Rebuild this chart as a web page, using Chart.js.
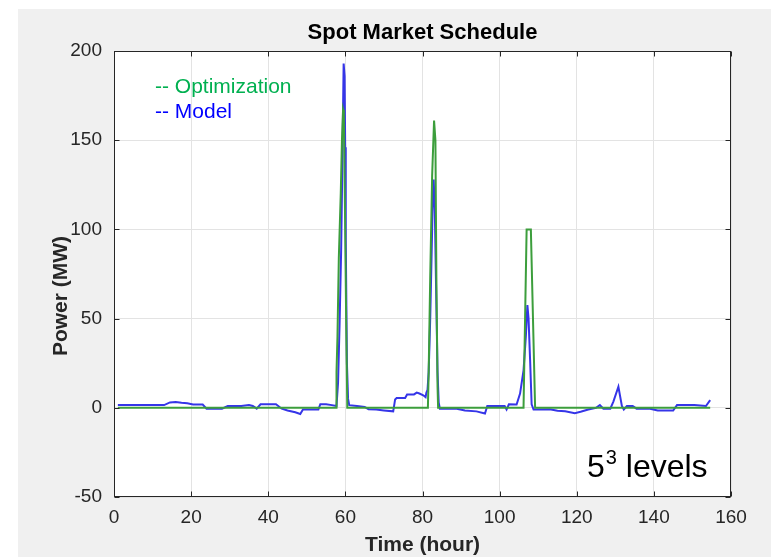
<!DOCTYPE html>
<html><head><meta charset="utf-8">
<script src="https://cdn.jsdelivr.net/npm/chart.js@4/dist/chart.umd.min.js"></script>
<style>html,body{margin:0;padding:0;background:#fff;overflow:hidden}#wrap{position:relative;width:771px;height:557px}</style>
</head><body><div id="wrap"><canvas id="c" width="771" height="557"></canvas></div>
<script>
const titleText = 'Spot Market Schedule';
const xLabel = 'Time (hour)';
const yLabel = 'Power (MW)';
const xTicks = [0, 20, 40, 60, 80, 100, 120, 140, 160];
const yTicks = [-50, 0, 50, 100, 150, 200];
const legendLabels = ['-- Optimization', '-- Model'];
const noteMain = '5', noteSup = '3', noteRest = ' levels';

const optHours = [1, 57.6, 57.7, 57.95, 58.3, 58.8, 59.1, 59.4, 59.6, 59.9, 60.2, 60.5,
  81.4, 81.6, 82.0, 82.5, 83.0, 83.2, 83.35, 83.6, 83.9, 84.05,
  106.2, 107.0, 108.1, 109.2, 154.6];
const optPower = [0, 0, 20, 40, 84, 120, 149, 167, 165, 110, 50, 0,
  0, 20, 73, 130, 161, 161, 150, 73, 12, 0,
  0, 100, 100, 0, 0];

const modelHours = [1, 13, 14.5, 16, 17.5, 19, 20.5, 23, 24, 28, 29.5, 33, 35, 36, 37, 38, 42, 43.5, 45, 47, 48.3, 49, 53, 53.5, 55, 56.5,
  57.7, 58.1, 58.5, 58.9, 59.2, 59.55, 59.8, 59.95, 60.1, 60.4, 60.7, 61, 63, 65, 66, 68, 70, 72.4,
  72.9, 73.3, 75.5, 76, 77.8, 78.5, 79.2, 80.2, 80.8, 81, 81.3, 81.6, 82.0, 82.4, 82.7, 82.9, 83.2, 83.5, 83.9, 84.2, 84.5,
  88.9, 91, 94, 96.2, 96.8, 99, 101.3, 101.8, 102.4, 104.4, 105.3, 106.2, 106.8, 107.2, 107.5, 107.9, 108.3, 108.8,
  113, 115, 117, 119.5, 121, 123, 125, 126, 126.9, 128.7, 129.5, 130.8, 131.7, 132.2, 133, 134.5, 135.5, 139, 141, 145, 146, 150.5, 153.5, 154.6];
const modelPower = [1.5, 1.5, 3, 3.2, 2.8, 2.5, 1.8, 1.8, -0.5, -0.5, 1, 1, 1.5, 1, -0.5, 2, 2, -0.5, -1.5, -2.5, -3.5, -1, -1, 2, 2, 1.5,
  1, 14, 47, 88, 134, 193, 186, 146, 94, 25, 5, 1.5, 1, 0.5, -0.8, -1, -1.5, -2,
  4.7, 5.5, 5.5, 7.5, 7.5, 8.5, 8, 7, 6, 8.4, 10, 20, 50, 90, 120, 128, 110, 70, 20, 3, -0.5,
  -0.5, -1.5, -2, -3.2, 1, 1, 1, -1, 2, 1.8, 8, 21, 40, 57.6, 50, 27, 2, -1,
  -0.8, -1.7, -2, -3, -2.2, -1, 0, 1.5, -0.5, -0.5, 3.5, 11.8, 1, -1, 1, 1, -0.5, -0.5, -1.5, -1.5, 1.5, 1.5, 1, 4.3];

const FONT = "'Liberation Sans', Arial, Helvetica, sans-serif";
const AXIS_COLOR = '#262626';

const bgPlugin = {
  id: 'bg',
  beforeDraw(chart) {
    const ctx = chart.ctx, a = chart.chartArea;
    ctx.save();
    ctx.fillStyle = '#ffffff';
    ctx.fillRect(0, 0, chart.width, chart.height);
    ctx.fillStyle = '#f0f0f0';
    ctx.fillRect(18, 9, chart.width - 18, chart.height - 9);
    ctx.fillStyle = '#ffffff';
    ctx.fillRect(a.left, a.top, a.right - a.left, a.bottom - a.top);
    ctx.restore();
  }
};

const framePlugin = {
  id: 'frame',
  afterDatasetsDraw(chart) {
    const ctx = chart.ctx, a = chart.chartArea;
    const xs = chart.scales.x, ys = chart.scales.y;
    ctx.save();
    ctx.strokeStyle = AXIS_COLOR;
    ctx.lineWidth = 1;
    const L = Math.round(a.left) + 0.5, R = Math.round(a.right) - 0.5;
    const T = Math.round(a.top) + 0.5, B = Math.round(a.bottom) - 0.5;
    ctx.strokeRect(L, T, R - L, B - T);
    ctx.beginPath();
    const tl = 5;
    xTicks.forEach(v => {
      const px = Math.round(xs.getPixelForValue(v)) + 0.5;
      ctx.moveTo(px, B); ctx.lineTo(px, B - tl);
      ctx.moveTo(px, T); ctx.lineTo(px, T + tl);
    });
    yTicks.forEach(v => {
      const py = Math.round(ys.getPixelForValue(v)) + 0.5;
      ctx.moveTo(L, py); ctx.lineTo(L + tl, py);
      ctx.moveTo(R, py); ctx.lineTo(R - tl, py);
    });
    ctx.stroke();

    // title, centred over the axes box
    ctx.fillStyle = '#000000';
    ctx.textAlign = 'center';
    ctx.textBaseline = 'middle';
    ctx.font = 'bold 22px ' + FONT;
    ctx.fillText(titleText, (a.left + a.right) / 2, 33);

    // y axis label
    ctx.fillStyle = AXIS_COLOR;
    ctx.save();
    ctx.translate(61, 296);
    ctx.rotate(-Math.PI / 2);
    ctx.font = 'bold 21px ' + FONT;
    ctx.fillText(yLabel, 0, 0);
    ctx.restore();

    // text legend
    ctx.textBaseline = 'alphabetic';
    ctx.textAlign = 'left';
    ctx.font = '21px ' + FONT;
    ctx.fillStyle = '#00b050';
    ctx.fillText(legendLabels[0], 155, 93);
    ctx.fillStyle = '#0000ff';
    ctx.fillText(legendLabels[1], 155, 118);

    // annotation
    ctx.fillStyle = '#000000';
    let x = 587, y = 477;
    ctx.font = '32px ' + FONT;
    ctx.fillText(noteMain, x, y);
    x += ctx.measureText(noteMain).width;
    ctx.font = '20px ' + FONT;
    ctx.fillText(noteSup, x + 1, y - 13);
    x += ctx.measureText(noteSup).width + 1;
    ctx.font = '32px ' + FONT;
    ctx.fillText(noteRest, x, y);
    ctx.restore();
  }
};

const mk = (hs, ps) => hs.map((h, i) => ({ x: h, y: ps[i] }));

new Chart(document.getElementById('c'), {
  type: 'line',
  data: {
    datasets: [
      { label: 'Optimization', data: mk(optHours, optPower), borderColor: '#3c9e3c', borderWidth: 2, pointRadius: 0, tension: 0, fill: false },
      { label: 'Model', data: mk(modelHours, modelPower), borderColor: '#3535e8', borderWidth: 2, pointRadius: 0, tension: 0, fill: false }
    ]
  },
  options: {
    responsive: false,
    animation: false,
    layout: { padding: { left: 0, right: 40, top: 51, bottom: 0 } },
    plugins: {
      legend: { display: false },
      tooltip: { enabled: false },
      title: { display: false }
    },
    scales: {
      x: {
        type: 'linear', min: 0, max: 160,
        afterBuildTicks: s => { s.ticks = xTicks.map(v => ({ value: v })); },
        afterFit: s => { s.height = 60; },
        grid: { color: '#e3e3e3', drawTicks: false, lineWidth: 1 },
        border: { display: false },
        ticks: { color: AXIS_COLOR, font: { family: FONT, size: 19 }, padding: 9, maxRotation: 0 },
        title: { display: true, text: xLabel, color: AXIS_COLOR, font: { family: FONT, size: 21, weight: 'bold', lineHeight: 1.2 }, padding: { top: 0, bottom: -1 } }
      },
      y: {
        type: 'linear', min: -50, max: 200,
        afterBuildTicks: s => { s.ticks = yTicks.map(v => ({ value: v })); },
        afterFit: s => { s.width = 114; },
        grid: { color: '#e3e3e3', drawTicks: false, lineWidth: 1 },
        border: { display: false },
        ticks: { color: AXIS_COLOR, font: { family: FONT, size: 19 }, padding: 12 },
        title: { display: false }
      }
    }
  },
  plugins: [bgPlugin, framePlugin]
});
</script>
</body></html>
